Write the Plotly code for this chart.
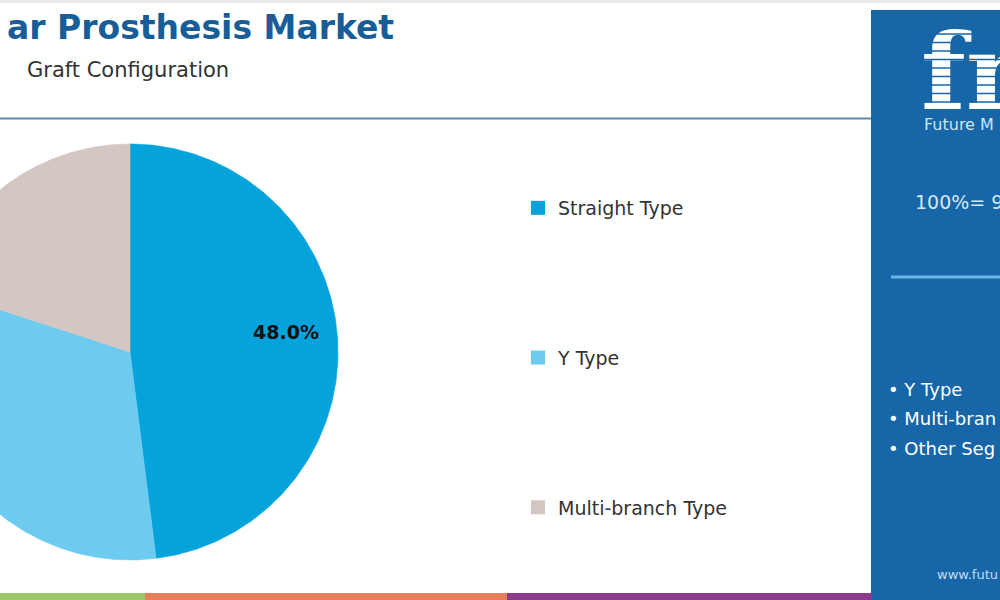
import numpy as np
import plotly.graph_objects as go

# ---- data ----
categories = ["Straight Type", "Y Type", "Multi-branch Type"]
shares = [48.0, 32.0, 20.0]
colors = ["#05a3dc", "#6dcbf0", "#d4c6c2"]
panel_bullets = ["Y Type", "Multi-bran", "Other Seg"]

W, H = 1000, 600
CX, CY, R = 130, 352, 208  # pie centre / radius in page pixels
BODY = "DejaVu Sans"


def px(x):
    return x / W


def py(y):
    return 1 - y / H


fig = go.Figure()

# pie wedges drawn in cartesian axes (unit radius), angle clockwise from 12 o'clock
vals = np.array(shares, dtype=float)
bounds = np.concatenate([[0], np.cumsum(vals)]) / vals.sum() * 2 * np.pi
for i, cat in enumerate(categories):
    th = np.linspace(bounds[i], bounds[i + 1], 240)
    xs = np.concatenate([[0], np.sin(th), [0]])
    ys = np.concatenate([[0], np.cos(th), [0]])
    fig.add_trace(go.Scatter(
        x=xs, y=ys, mode="lines", fill="toself", fillcolor=colors[i],
        line=dict(width=0.6, color=colors[i]), showlegend=False,
        hoverinfo="text", text=f"{cat}: {shares[i]:.1f}%",
    ))

# legend entries
for i, cat in enumerate(categories):
    fig.add_trace(go.Scatter(
        x=[None], y=[None], mode="markers", name=cat, legendgroup=cat,
        marker=dict(symbol="square", size=14, color=colors[i]),
    ))

PANEL = "#1666a8"

# logo text as a trace so stripes can overlay it
fig.add_trace(go.Scatter(
    x=[(921 - CX) / R], y=[(CY - 83) / R], mode="text", text=["fm"],
    textposition="middle right", showlegend=False, hoverinfo="skip",
    textfont=dict(family="DejaVu Serif", size=104, color="white", weight="bold"),
))

shapes = []
# top grey strip
shapes.append(dict(type="rect", xref="paper", yref="paper", x0=0, x1=1, y0=py(3), y1=1,
                   fillcolor="#e9e9e9", line_width=0, layer="below"))
# header rule
shapes.append(dict(type="line", xref="paper", yref="paper", x0=0, x1=px(871), y0=py(118.5), y1=py(118.5),
                   line=dict(color="#5d88ad", width=2)))
# right panel
shapes.append(dict(type="rect", xref="paper", yref="paper", x0=px(871), x1=1, y0=0, y1=py(10),
                   fillcolor=PANEL, line_width=0, layer="below"))
# logo stripes
for yy in np.arange(34, 110, 8.5):
    shapes.append(dict(type="line", xref="paper", yref="paper", x0=px(915), x1=1, y0=py(yy), y1=py(yy),
                       line=dict(color=PANEL, width=1.6), layer="above"))
# panel divider
shapes.append(dict(type="line", xref="paper", yref="paper", x0=px(891), x1=1, y0=py(277), y1=py(277),
                   line=dict(color="#6fb6e8", width=3)))
# bottom colour strip
for x0, x1, c in [(0, 145, "#9cc86a"), (145, 507, "#e47f58"), (507, 872, "#8a3b8b")]:
    shapes.append(dict(type="rect", xref="paper", yref="paper", x0=px(x0), x1=px(x1), y0=0, y1=py(593),
                       fillcolor=c, line_width=0))

mid = (bounds[0] + bounds[1]) / 2
annotations = [
    # percentage label for the largest slice
    dict(x=0.75 * np.sin(mid), y=0.75 * np.cos(mid) + 0.05, xref="x", yref="y",
         text=f"<b>{shares[0]:.1f}%</b>", font=dict(family=BODY, size=19, color="#111111")),
    dict(x=px(5), y=py(28), xanchor="left", yanchor="middle", text="<b>ar Prosthesis Market</b>",
         font=dict(family=BODY, size=33, color="#175e98")),
    dict(x=px(231), y=py(70), xanchor="right", yanchor="middle", text="Graft Configuration",
         font=dict(family=BODY, size=21, color="#333333")),
    dict(x=px(922), y=py(124), xanchor="left", yanchor="middle", text="Future M",
         font=dict(family=BODY, size=16, color="#cfe3f5")),
    dict(x=px(913), y=py(202), xanchor="left", yanchor="middle", text="100%= 9",
         font=dict(family=BODY, size=19, color="#d7e7f6")),
    dict(x=px(935), y=py(574), xanchor="left", yanchor="middle", text="www.futu",
         font=dict(family="Liberation Sans Narrow, DejaVu Sans", size=13, color="#c4dbef")),
]
for i, t in enumerate(panel_bullets):
    annotations.append(dict(x=px(886), y=py(389 + 29.5 * i), xanchor="left", yanchor="middle",
                            text="• " + t, font=dict(family=BODY, size=18, color="white")))
for a in annotations:
    a.setdefault("xref", "paper")
    a.setdefault("yref", "paper")
    a["showarrow"] = False

fig.update_layout(
    width=W, height=H,
    margin=dict(l=0, r=0, t=0, b=0),
    paper_bgcolor="white", plot_bgcolor="rgba(0,0,0,0)",
    xaxis=dict(range=[-CX / R, (W - CX) / R], visible=False, fixedrange=True),
    yaxis=dict(range=[-(H - CY) / R, CY / R], visible=False, fixedrange=True),
    showlegend=True,
    legend=dict(x=px(518), y=py(189), xanchor="left", yanchor="top", tracegroupgap=122,
                font=dict(family=BODY, size=19, color="#333333"),
                bgcolor="rgba(0,0,0,0)", itemsizing="trace"),
    shapes=shapes,
    annotations=annotations,
)

fig.write_html("out.html", config={"displayModeBar": False})
